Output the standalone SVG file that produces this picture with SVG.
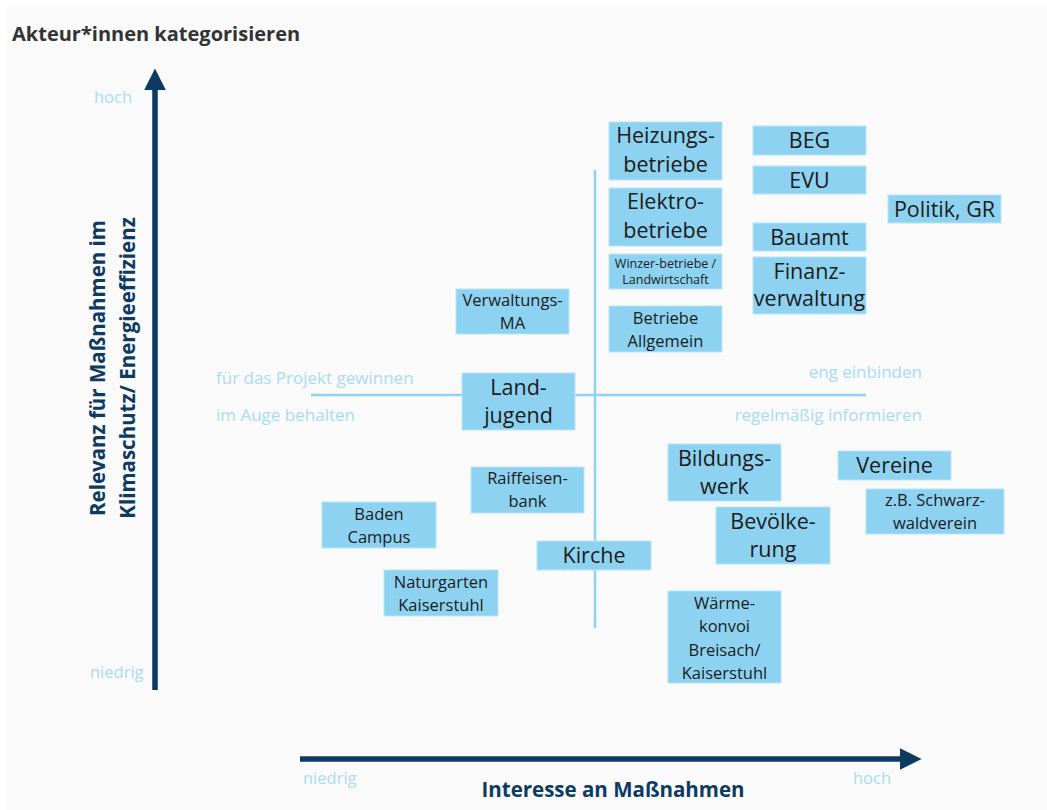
<svg xmlns="http://www.w3.org/2000/svg" width="1047" height="810" viewBox="0 0 1047 810">
  <defs>
    <marker id="axisHead" viewBox="0 0 10 10" refX="2" refY="5" markerWidth="4" markerHeight="4" orient="auto" markerUnits="strokeWidth">
      <path d="M0,0 L10,5 L0,10 Z" fill="#0d3a62"/>
    </marker>
    <style>
      .title { font-family: "Open Sans", "Liberation Sans", sans-serif; font-weight: 700; font-size: 20px; fill: #333333; }
      .axis-title { font-family: "Open Sans", "Liberation Sans", sans-serif; font-weight: 700; font-size: 20.5px; fill: #0d3a62; }
      .scale { font-family: "Open Sans", "Liberation Sans", sans-serif; font-size: 16.5px; fill: #a9dcf4; }
      .quad { font-family: "Open Sans", "Liberation Sans", sans-serif; font-size: 17px; fill: #a9dcf4; }
      .box { fill: #8dd3f1; stroke: #b7e4f7; stroke-width: 1; }
      .lbl { font-family: "Open Sans", "Liberation Sans", sans-serif; fill: #1b1b1b; text-anchor: middle; }
      .big { font-size: 21.5px; }
      .mid { font-size: 16.5px; }
      .small { font-size: 12.5px; }
      .cross { stroke: #8fd3f0; stroke-width: 2.5; fill: none; }
      .axis { stroke: #0d3a62; stroke-width: 5.5; fill: none; }
    </style>
  </defs>

  <!-- page background -->
  <rect x="0" y="0" width="1047" height="810" fill="#ffffff"/>
  <rect x="7" y="7" width="1040" height="803" fill="#fafafa"/>

  <text class="title" x="12" y="41">Akteur*innen kategorisieren</text>

  <!-- axes -->
  <g id="axes">
    <line class="axis" x1="155" y1="690" x2="155" y2="86" marker-end="url(#axisHead)"/>
    <line class="axis" x1="300" y1="759" x2="904" y2="759" marker-end="url(#axisHead)"/>
    <text class="scale" x="94" y="103">hoch</text>
    <text class="scale" x="90" y="678">niedrig</text>
    <text class="scale" x="303" y="784">niedrig</text>
    <text class="scale" x="853" y="784">hoch</text>
    <text class="axis-title" x="613" y="797" text-anchor="middle">Interesse an Maßnahmen</text>
    <g transform="translate(105,368) rotate(-90)">
      <text class="axis-title" x="0" y="0" text-anchor="middle">Relevanz für Maßnahmen im</text>
      <text class="axis-title" x="0" y="30" text-anchor="middle">Klimaschutz/ Energieeffizienz</text>
    </g>
  </g>

  <!-- quadrant divider -->
  <g id="connectors">
    <line class="cross" x1="595" y1="170" x2="595" y2="628"/>
    <line class="cross" x1="311" y1="395" x2="866" y2="395"/>
  </g>

  <g id="quadrant-labels">
    <text class="quad" x="216" y="384">für das Projekt gewinnen</text>
    <text class="quad" x="216" y="421">im Auge behalten</text>
    <text class="quad" x="922" y="378" text-anchor="end">eng einbinden</text>
    <text class="quad" x="922" y="421" text-anchor="end">regelmäßig informieren</text>
  </g>

  <!-- actors -->
  <g id="heizungsbetriebe">
    <rect class="box" x="609" y="122" width="113" height="58"/>
    <text class="lbl big" x="665.5" y="143">Heizungs-</text>
    <text class="lbl big" x="665.5" y="172">betriebe</text>
  </g>
  <g id="elektrobetriebe">
    <rect class="box" x="609" y="188" width="113" height="58"/>
    <text class="lbl big" x="665.5" y="209">Elektro-</text>
    <text class="lbl big" x="665.5" y="238">betriebe</text>
  </g>
  <g id="winzerbetriebe">
    <rect class="box" x="609" y="254" width="113" height="35"/>
    <text class="lbl small" x="665.5" y="268">Winzer-betriebe /</text>
    <text class="lbl small" x="665.5" y="284">Landwirtschaft</text>
  </g>
  <g id="betriebe-allgemein">
    <rect class="box" x="609" y="306" width="113" height="46"/>
    <text class="lbl mid" x="665.5" y="324">Betriebe</text>
    <text class="lbl mid" x="665.5" y="347">Allgemein</text>
  </g>
  <g id="beg">
    <rect class="box" x="753" y="126" width="113" height="29"/>
    <text class="lbl big" x="809.5" y="148">BEG</text>
  </g>
  <g id="evu">
    <rect class="box" x="753" y="166" width="113" height="28"/>
    <text class="lbl big" x="809.5" y="188">EVU</text>
  </g>
  <g id="bauamt">
    <rect class="box" x="753" y="223" width="113" height="28"/>
    <text class="lbl big" x="809.5" y="245">Bauamt</text>
  </g>
  <g id="finanzverwaltung">
    <rect class="box" x="753" y="257" width="113" height="57"/>
    <text class="lbl big" x="809.5" y="279">Finanz-</text>
    <text class="lbl big" x="809.5" y="306">verwaltung</text>
  </g>
  <g id="politik-gr">
    <rect class="box" x="888" y="195" width="113" height="28"/>
    <text class="lbl big" x="944.5" y="217">Politik, GR</text>
  </g>
  <g id="verwaltungs-ma">
    <rect class="box" x="456" y="289" width="113" height="45"/>
    <text class="lbl mid" x="512.5" y="306">Verwaltungs-</text>
    <text class="lbl mid" x="512.5" y="329">MA</text>
  </g>
  <g id="landjugend">
    <rect class="box" x="462" y="373" width="113" height="57"/>
    <text class="lbl big" x="518.5" y="395">Land-</text>
    <text class="lbl big" x="518.5" y="423">jugend</text>
  </g>
  <g id="raiffeisenbank">
    <rect class="box" x="471" y="467" width="113" height="46"/>
    <text class="lbl mid" x="527.5" y="484">Raiffeisen-</text>
    <text class="lbl mid" x="527.5" y="507">bank</text>
  </g>
  <g id="baden-campus">
    <rect class="box" x="322" y="502" width="114" height="46"/>
    <text class="lbl mid" x="379" y="520">Baden</text>
    <text class="lbl mid" x="379" y="543">Campus</text>
  </g>
  <g id="kirche">
    <rect class="box" x="537" y="541" width="114" height="29"/>
    <text class="lbl big" x="594" y="563">Kirche</text>
  </g>
  <g id="naturgarten">
    <rect class="box" x="384" y="570" width="114" height="46"/>
    <text class="lbl mid" x="441" y="588">Naturgarten</text>
    <text class="lbl mid" x="441" y="611">Kaiserstuhl</text>
  </g>
  <g id="bildungswerk">
    <rect class="box" x="668" y="444" width="113" height="57"/>
    <text class="lbl big" x="724.5" y="466">Bildungs-</text>
    <text class="lbl big" x="724.5" y="494">werk</text>
  </g>
  <g id="bevoelkerung">
    <rect class="box" x="716" y="507" width="114" height="57"/>
    <text class="lbl big" x="773" y="529">Bevölke-</text>
    <text class="lbl big" x="773" y="557">rung</text>
  </g>
  <g id="vereine">
    <rect class="box" x="838" y="451" width="113" height="29"/>
    <text class="lbl big" x="894.5" y="473">Vereine</text>
  </g>
  <g id="schwarzwaldverein">
    <rect class="box" x="866" y="489" width="138" height="45"/>
    <text class="lbl mid" x="935" y="506">z.B. Schwarz-</text>
    <text class="lbl mid" x="935" y="529">waldverein</text>
  </g>
  <g id="waermekonvoi">
    <rect class="box" x="668" y="591" width="113" height="92"/>
    <text class="lbl mid" x="724.5" y="609">Wärme-</text>
    <text class="lbl mid" x="724.5" y="632">konvoi</text>
    <text class="lbl mid" x="724.5" y="656">Breisach/</text>
    <text class="lbl mid" x="724.5" y="679">Kaiserstuhl</text>
  </g>
</svg>
